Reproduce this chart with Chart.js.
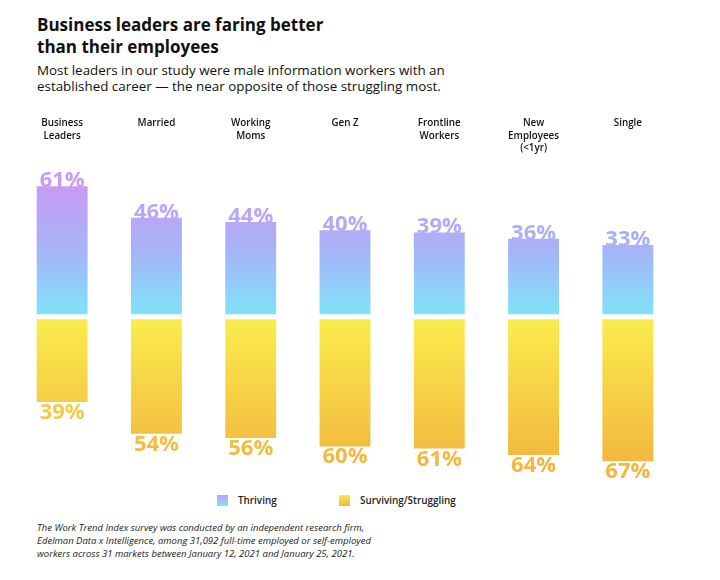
<!DOCTYPE html>
<html>
<head>
<meta charset="utf-8">
<script src="https://cdn.jsdelivr.net/npm/chart.js@4.4.1/dist/chart.umd.min.js"></script>
<style>
    body { margin: 0; width: 720px; height: 580px; background: #fff; position: relative; overflow: hidden; font-family: "Open Sans", sans-serif; color: #111; }
    .title { position: absolute; left: 37px; top: 14px; font-size: 17px; font-weight: 700; line-height: 21.6px; }
    .subtitle { position: absolute; left: 37px; top: 62px; font-size: 13.4px; line-height: 16px; }
    .chart-box { position: absolute; left: 0; top: 100px; width: 720px; height: 390px; }
    .legend { position: absolute; top: 494px; font-size: 9.9px; font-weight: 600; color: #222; line-height: 12px; }
    .legend span { display: inline-block; width: 11px; height: 11px; vertical-align: -2px; margin-right: 10px; }
    .note { position: absolute; left: 37px; top: 522px; font-size: 9.5px; font-style: italic; line-height: 12.8px; color: #222; }
</style>
</head>
<body>
<div class="title">Business leaders are faring better<br>than their employees</div>
<div class="subtitle">Most leaders in our study were male information workers with an<br>established career — the near opposite of those struggling most.</div>
<div class="chart-box"><canvas id="chart"></canvas></div>
<div class="legend" style="left:217px"><span style="background:linear-gradient(#c89bf5,#80e2fb)"></span>Thriving</div>
<div class="legend" style="left:339px"><span style="background:linear-gradient(#faec4d,#f2b73f)"></span>Surviving/Struggling</div>
<div class="note">The Work Trend Index survey was conducted by an independent research firm,<br>Edelman Data x Intelligence, among 31,092 full-time employed or self-employed<br>workers across 31 markets between January 12, 2021 and January 25, 2021.</div>
<script>
const categories = [['Business', 'Leaders'], 'Married', ['Working', 'Moms'], 'Gen Z', ['Frontline', 'Workers'], ['New', 'Employees', '(<1yr)'], 'Single'];
const thriving = [61, 46, 44, 40, 39, 36, 33];
const surviving = [39, 54, 56, 60, 61, 64, 67];

Chart.defaults.font.family = '"Open Sans", sans-serif';

const thrivingFill = (chart) => {
    const { ctx, chartArea, scales } = chart;
    if (!chartArea) return null;
    const g = ctx.createLinearGradient(0, scales.yT.getPixelForValue(Math.max(...thriving)), 0, scales.yT.getPixelForValue(0));
    g.addColorStop(0, '#c89bf5');
    g.addColorStop(0.5, '#a6b4f7');
    g.addColorStop(1, '#80e2fb');
    return g;
};

const survivingFill = (chart) => {
    const { ctx, chartArea, scales } = chart;
    if (!chartArea) return null;
    const g = ctx.createLinearGradient(0, scales.yS.getPixelForValue(0), 0, scales.yS.getPixelForValue(Math.max(...surviving)));
    g.addColorStop(0, '#faec4d');
    g.addColorStop(1, '#f2b73f');
    return g;
};

// percent labels sitting on the end of each bar
const valueLabels = {
    id: 'valueLabels',
    afterDatasetsDraw(chart) {
        const { ctx } = chart;
        ctx.save();
        ctx.font = 'bold 22px "Open Sans"';
        ctx.textAlign = 'center';
        ctx.textBaseline = 'alphabetic';
        chart.data.datasets.forEach((ds, i) => {
            chart.getDatasetMeta(i).data.forEach((bar, j) => {
                ctx.fillStyle = bar.options.backgroundColor;
                const y = i === 0 ? bar.y + 1 : bar.y + 17;
                ctx.fillText(ds.data[j] + '%', bar.x, y);
            });
        });
        ctx.restore();
    }
};

new Chart(document.getElementById('chart'), {
    type: 'bar',
    data: {
        labels: categories,
        datasets: [
            {
                label: 'Thriving',
                data: thriving,
                yAxisID: 'yT',
                backgroundColor: (c) => thrivingFill(c.chart),
                grouped: false
            },
            {
                label: 'Surviving/Struggling',
                data: surviving,
                yAxisID: 'yS',
                backgroundColor: (c) => survivingFill(c.chart),
                grouped: false
            }
        ]
    },
    options: {
        responsive: true,
        maintainAspectRatio: false,
        animation: false,
        layout: { padding: { left: 15, right: 45, top: 0, bottom: 10 } },
        categoryPercentage: 1,
        barPercentage: 0.54,
        plugins: {
            legend: { display: false },
            tooltip: { enabled: false }
        },
        scales: {
            x: {
                position: 'top',
                grid: { display: false, drawTicks: false },
                border: { display: false },
                ticks: {
                    color: '#111',
                    font: { size: 9.8, weight: '600', lineHeight: 1.3 },
                    crossAlign: 'far',
                    padding: 5,
                    maxRotation: 0,
                    autoSkip: false
                },
                afterFit: (s) => { s.height = 60; }
            },
            yT: { display: false, min: -78.9, max: 73.5 },
            yS: { display: false, reverse: true, min: -75.1, max: 75.8 }
        }
    },
    plugins: [valueLabels]
});
</script>
</body>
</html>
